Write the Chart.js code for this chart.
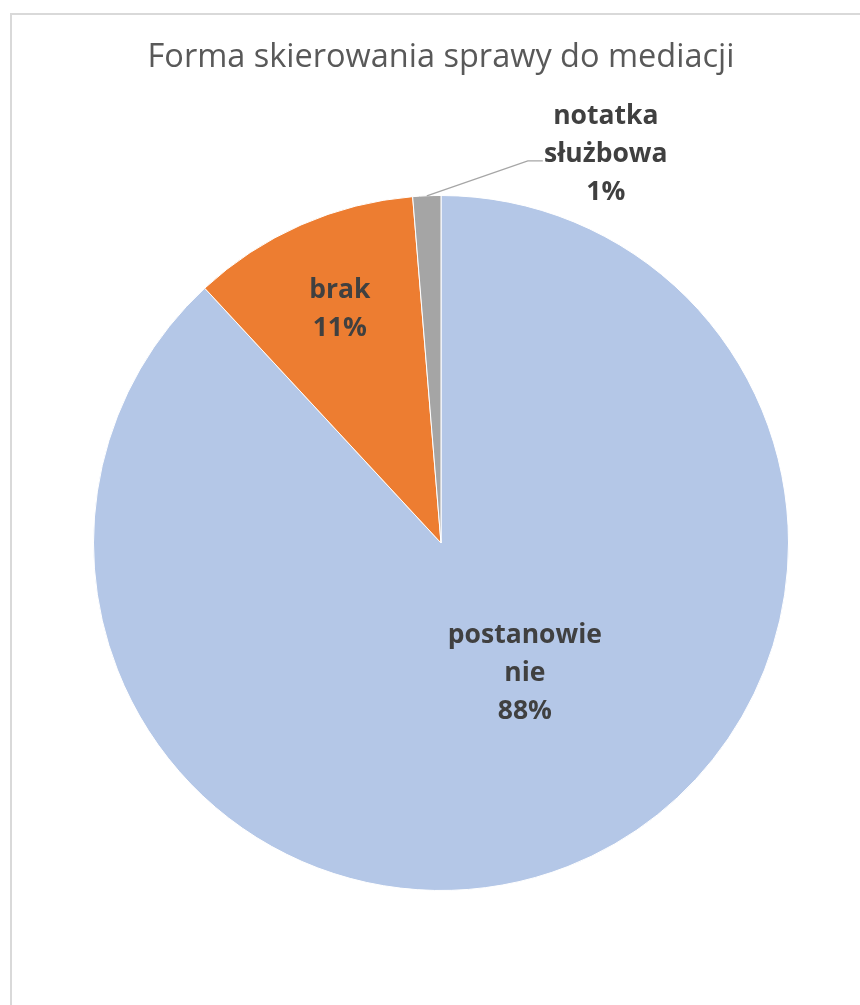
<!DOCTYPE html>
<html>
<head>
<meta charset="utf-8">
<script src="https://cdn.jsdelivr.net/npm/chart.js@4.4.1/dist/chart.umd.min.js"></script>
<style>
  html, body { margin: 0; padding: 0; background: #ffffff; overflow: hidden; }
  #wrap { position: relative; width: 860px; height: 1005px; }
  #frame { position: absolute; left: 10px; top: 13px; width: 900px; height: 1100px;
           border-left: 2px solid #d9d9d9; border-top: 2px solid #d9d9d9; }
  canvas { position: absolute; left: 0; top: 0; }
</style>
</head>
<body>
<div id="wrap">
  <div id="frame"></div>
  <canvas id="chart" width="860" height="1005"></canvas>
</div>
<script>
// Categories and their shares (percent of cases)
const categories = ['postanowienie', 'brak', 'notatka służbowa'];
const labelLines = [['postanowie', 'nie'], ['brak'], ['notatka', 'służbowa']];
const shares = [88.1, 10.6, 1.3];
const sliceColors = ['#b4c7e7', '#ed7d31', '#a5a5a5'];
const chartTitle = 'Forma skierowania sprawy do mediacji';

// Label placement per slice: distance along the mid-angle (fraction of radius) plus a nudge
const labelPlacement = [
  { r: 0.44, dx: 28, dy: -12, leader: false },
  { r: 0.73, dx: 1, dy: -1, leader: false },
  { r: 1.0, dx: 179, dy: -41, leader: true }
];

const titleAndLabels = {
  id: 'titleAndLabels',
  afterDatasetsDraw(chart) {
    const ctx = chart.ctx;
    const meta = chart.getDatasetMeta(0);
    const total = shares.reduce((a, b) => a + b, 0);

    // title
    ctx.save();
    ctx.font = '32.5px "Open Sans"';
    ctx.fillStyle = '#595959';
    ctx.textAlign = 'center';
    ctx.textBaseline = 'alphabetic';
    ctx.fillText(chartTitle, 441, 67);
    ctx.restore();

    meta.data.forEach((arc, i) => {
      const p = arc.getProps(['x', 'y', 'startAngle', 'endAngle', 'outerRadius'], true);
      const mid = (p.startAngle + p.endAngle) / 2;
      const pl = labelPlacement[i];
      const ex = p.x + Math.cos(mid) * p.outerRadius * pl.r;
      const ey = p.y + Math.sin(mid) * p.outerRadius * pl.r;
      const cx = ex + pl.dx;
      const cy = ey + pl.dy;
      const lines = labelLines[i].concat([Math.round(shares[i] / total * 100) + '%']);
      const lh = 38;

      ctx.save();
      if (pl.leader) {
        ctx.strokeStyle = '#a6a6a6';
        ctx.lineWidth = 1.3;
        ctx.beginPath();
        const edgeX = p.x + Math.cos(mid) * p.outerRadius;
        const edgeY = p.y + Math.sin(mid) * p.outerRadius;
        ctx.moveTo(edgeX, edgeY);
        ctx.lineTo(cx - 78, cy + 6);
        ctx.lineTo(cx - 63, cy + 6);
        ctx.stroke();
      }
      ctx.font = 'bold 26.5px "Open Sans"';
      ctx.fillStyle = '#404040';
      ctx.textAlign = 'center';
      ctx.textBaseline = 'middle';
      const top = cy - (lines.length - 1) * lh / 2;
      lines.forEach((t, k) => ctx.fillText(t, cx, top + k * lh));
      ctx.restore();
    });
  }
};

new Chart(document.getElementById('chart'), {
  type: 'pie',
  data: {
    labels: categories,
    datasets: [{
      data: shares,
      backgroundColor: sliceColors,
      borderColor: '#ffffff',
      borderWidth: 1
    }]
  },
  options: {
    responsive: false,
    devicePixelRatio: 1,
    animation: false,
    layout: { padding: { top: 195, bottom: 114, left: 93, right: 71 } },
    plugins: {
      legend: { display: false },
      title: { display: false },
      tooltip: { enabled: false }
    }
  },
  plugins: [titleAndLabels]
});
</script>
</body>
</html>
